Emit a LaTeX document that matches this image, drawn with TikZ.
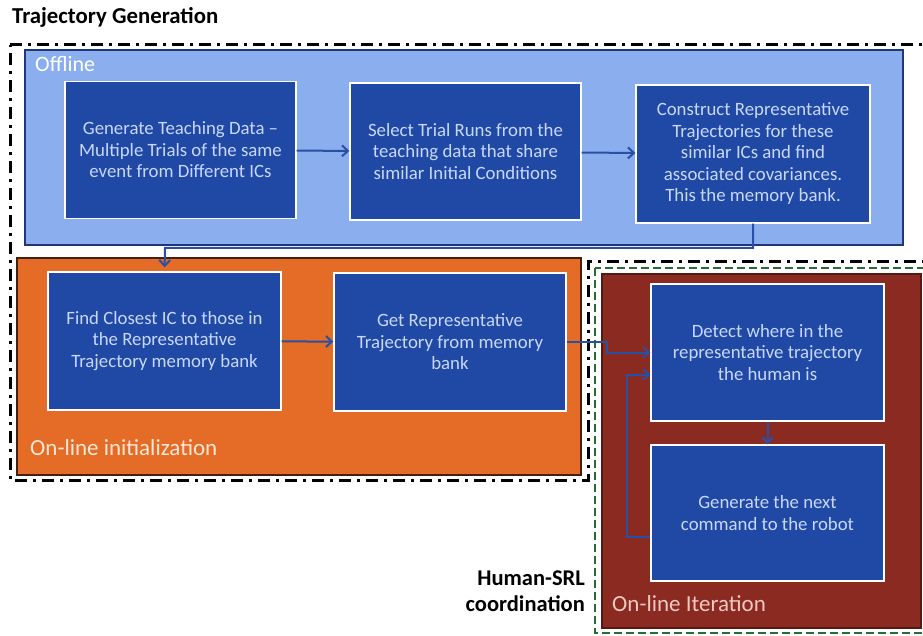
\documentclass[tikz,border=0pt]{standalone}
\usepackage{fontspec}
\setmainfont{Carlito}
\usetikzlibrary{arrows.meta}
\definecolor{offblue}{RGB}{138,174,238}
\definecolor{navy}{RGB}{30,55,120}
\definecolor{stepblue}{RGB}{32,72,165}
\definecolor{steptext}{RGB}{200,216,252}
\definecolor{initorange}{RGB}{228,108,38}
\definecolor{iterred}{RGB}{139,42,32}
\definecolor{srlgreen}{RGB}{40,110,50}
\definecolor{arrowblue}{RGB}{40,80,165}
\tikzset{
  stepbox/.style={draw=white, line width=1.2pt, fill=stepblue, text=steptext,
    align=center, inner sep=0pt, font=\fontsize{18.8}{21.5}\selectfont},
  flow/.style={draw=arrowblue, line width=2pt, -{Straight Barb[length=6pt,width=11pt]}},
  tag/.style={anchor=west, inner sep=0pt, font=\fontsize{23}{26}\selectfont},
}
\begin{document}
\begin{tikzpicture}[x=1pt,y=-1pt]
\useasboundingbox (0,0) rectangle (923,636);
\fill[white] (0,0) rectangle (923,636);
\node[anchor=west, inner sep=0pt, font=\bfseries\fontsize{22.8}{26}\selectfont] (title) at (12,17) {Trajectory Generation};
\draw[line width=3pt, dash pattern=on 12pt off 6pt on 3pt off 6pt]
  (10,45) -- (935,45) -- (935,262) -- (588,262) -- (588,480) -- (10,480) -- cycle;
\draw[draw=navy, line width=2pt, fill=offblue] (25,50) rectangle (903,245);
\node[tag, font=\fontsize{22}{26}\selectfont, text=white] (offline) at (35,64) {Offline};
\draw[draw=srlgreen, line width=2.5pt, dash pattern=on 8pt off 4pt] (595,268) rectangle (935,633);
\draw[draw=black!70!initorange, line width=1.5pt, fill=initorange] (17,258) rectangle (581,475);
\node[tag, text={rgb,255:red,252;green,232;blue,215}] (init) at (30,448) {On-line initialization};
\draw[draw=black!40!iterred, line width=1.5pt, fill=iterred] (602,274) rectangle (921,628);
\node[tag, text={rgb,255:red,240;green,200;blue,195}] (iter) at (612,604) {On-line Iteration};
\node[anchor=east, align=right, inner sep=0pt, font=\bfseries\fontsize{22.5}{26}\selectfont] (srl) at (585,591) {Human-SRL\\coordination};
\node[stepbox, minimum width=231pt, minimum height=137pt] (gen) at (180.5,150) {Generate Teaching Data --\\Multiple Trials of the same\\event from Different ICs};
\node[stepbox, minimum width=231pt, minimum height=137pt] (sel) at (465.5,151.5) {Select Trial Runs from the\\teaching data that share\\similar Initial Conditions};
\node[stepbox, minimum width=234pt, minimum height=138pt] (rep) at (753,154) {Construct Representative\\Trajectories for these\\similar ICs and find\\associated covariances.\\This the memory bank.};
\node[stepbox, minimum width=233pt, minimum height=138pt] (close) at (164.5,341) {Find Closest IC to those in\\the Representative\\Trajectory memory bank};
\node[stepbox, minimum width=232pt, minimum height=138pt] (get) at (450,342) {Get Representative\\Trajectory from memory\\bank};
\node[stepbox, minimum width=233pt, minimum height=137pt] (detect) at (767.5,352.5) {Detect where in the\\representative trajectory\\the human is};
\node[stepbox, minimum width=233pt, minimum height=136pt] (cmd) at (767.5,513) {Generate the next\\command to the robot};
\coordinate (down) at (165,248);
\coordinate (jog) at (607,342);
\coordinate (back) at (627,450);
\draw[flow] (gen) -- (sel);
\draw[flow] (sel) -- (rep);
\draw[flow, shorten >=4pt] (rep.south) |- (down) -- (close.north);
\draw[flow] (close) -- (get);
\draw[flow] (get.east) -- (jog) |- (detect.west);
\draw[flow] (detect) -- (cmd);
\draw[flow] ([yshift=-24pt]cmd.west) -| (back) |- ([yshift=-22pt]detect.west);
\end{tikzpicture}
\end{document}
